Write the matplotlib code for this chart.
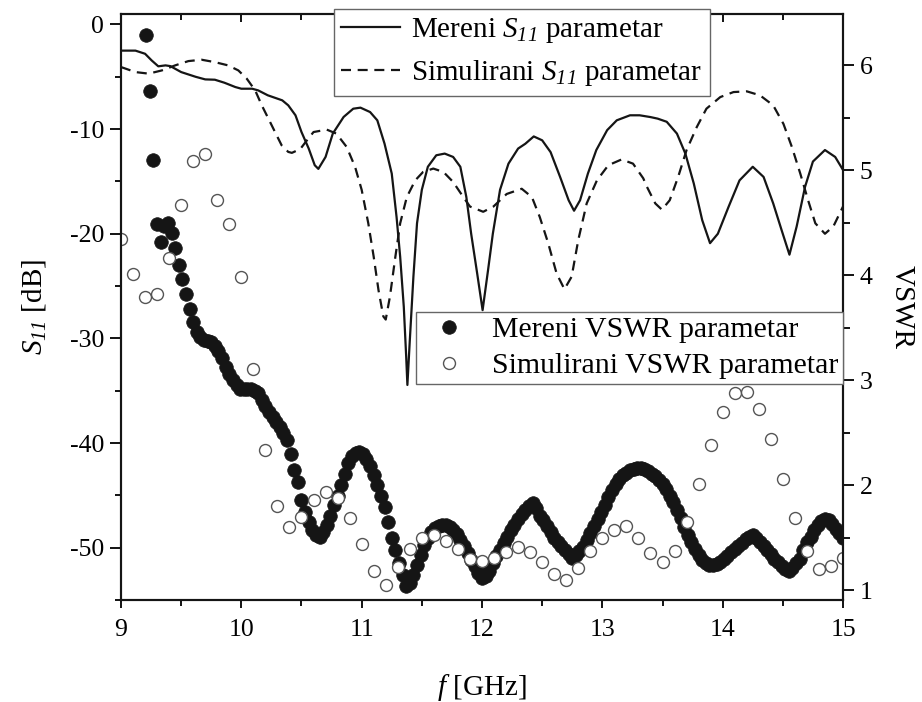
import numpy as np
import matplotlib
matplotlib.use("Agg")
import matplotlib.pyplot as plt
from matplotlib.ticker import MultipleLocator

plt.rcParams['font.family'] = ['Liberation Serif', 'DejaVu Serif']
plt.rcParams['mathtext.fontset'] = 'custom'
plt.rcParams['mathtext.it'] = 'Liberation Serif:italic'
plt.rcParams['mathtext.rm'] = 'Liberation Serif:italic'
plt.rcParams['mathtext.default'] = 'it'
plt.rcParams['axes.unicode_minus'] = False

# ---- measured S11 (solid) ----
s11_meas_f = [9.00, 9.12, 9.20, 9.255, 9.31, 9.37, 9.41, 9.50, 9.62, 9.70, 9.78, 9.86, 9.95, 10.00,
              10.09, 10.14, 10.22, 10.34, 10.39, 10.45, 10.50, 10.56, 10.61, 10.64, 10.70, 10.76,
              10.85, 10.93, 10.99, 11.07, 11.13, 11.19, 11.25, 11.29, 11.32, 11.35, 11.37, 11.38,
              11.40, 11.43, 11.46, 11.50, 11.55, 11.62, 11.69, 11.76, 11.82, 11.87, 11.91, 11.96,
              12.005, 12.05, 12.09, 12.15, 12.22, 12.30, 12.36, 12.43, 12.50, 12.57, 12.65, 12.72,
              12.765, 12.815, 12.88, 12.95, 13.04, 13.12, 13.23, 13.31, 13.40, 13.46, 13.535, 13.62,
              13.69, 13.76, 13.83, 13.895, 13.96, 14.05, 14.14, 14.25, 14.34, 14.42, 14.49, 14.555,
              14.615, 14.685, 14.75, 14.85, 14.935, 15.00]
s11_meas_db = [-2.5, -2.5, -2.8, -3.44, -4.0, -3.91, -3.98, -4.55, -5.0, -5.25, -5.28, -5.57, -5.98, -6.14,
               -6.14, -6.3, -6.77, -7.25, -7.73, -8.68, -10.28, -11.86, -13.45, -13.8, -12.66, -10.43,
               -8.84, -8.05, -7.95, -8.37, -9.16, -11.39, -14.25, -18.4, -22.2, -26.97, -31.75, -34.45,
               -30.2, -24.1, -19.0, -15.8, -13.6, -12.5, -12.34, -12.66, -13.6, -16.5, -20.0, -23.8,
               -27.3, -23.5, -20.0, -15.8, -13.3, -11.86, -11.4, -10.7, -11.07, -12.2, -14.6, -16.8,
               -17.8, -16.8, -14.25, -12.0, -10.1, -9.16, -8.68, -8.68, -8.85, -9.0, -9.3, -10.43,
               -12.34, -15.2, -18.7, -20.9, -20.0, -17.4, -14.9, -13.6, -14.57, -17.1, -19.66, -22.0,
               -19.3, -15.5, -13.1, -12.0, -12.66, -13.9]

# ---- simulated S11 (dashed) ----
s11_sim_f = [9.00, 9.12, 9.23, 9.34, 9.45, 9.56, 9.67, 9.78, 9.89, 9.975, 10.045, 10.115, 10.17, 10.225,
             10.28, 10.335, 10.39, 10.42, 10.49, 10.55, 10.60, 10.71, 10.79, 10.875, 10.945, 11.00,
             11.055, 11.10, 11.14, 11.18, 11.20, 11.235, 11.28, 11.32, 11.375, 11.445, 11.51, 11.595,
             11.68, 11.76, 11.845, 11.90, 12.01, 12.095, 12.205, 12.33, 12.415, 12.48, 12.55, 12.62,
             12.685, 12.745, 12.80, 12.87, 12.955, 13.05, 13.16, 13.255, 13.34, 13.37, 13.44, 13.495,
             13.56, 13.63, 13.70, 13.785, 13.865, 13.98, 14.09, 14.20, 14.31, 14.42, 14.505, 14.575,
             14.645, 14.71, 14.77, 14.85, 14.92, 15.00]
s11_sim_db = [-4.07, -4.55, -4.7, -4.39, -3.91, -3.5, -3.37, -3.6, -3.91, -4.39, -5.18, -6.3, -7.73, -9.0,
              -10.28, -11.55, -12.18, -12.27, -11.9, -11.0, -10.28, -10.05, -10.43, -11.7, -13.6, -15.8,
              -19.0, -22.2, -25.4, -27.9, -28.2, -26.0, -22.2, -19.0, -16.5, -14.9, -14.1, -13.77,
              -14.1, -15.05, -16.5, -17.4, -17.9, -17.4, -16.2, -15.7, -16.5, -18.4, -20.9, -23.8,
              -25.3, -24.1, -20.6, -17.1, -14.9, -13.45, -12.9, -13.3, -14.7, -15.5, -17.1, -17.7,
              -16.8, -14.57, -12.0, -9.8, -8.05, -6.94, -6.46, -6.39, -6.77, -7.73, -9.5, -11.7,
              -14.25, -16.8, -19.0, -20.0, -19.3, -17.4]

# ---- measured VSWR (filled dots), sweep 9.21 .. 15.00 GHz ----
vswr_meas_f = np.linspace(9.21, 15.00, 194)
vswr_meas = [6.29, 5.76, 5.10, 4.49, 4.32, 4.47, 4.50, 4.40, 4.26, 4.10,
             3.96, 3.82, 3.68, 3.55, 3.46, 3.41, 3.38, 3.37, 3.36, 3.33,
             3.28, 3.21, 3.13, 3.06, 3.00, 2.95, 2.92, 2.92, 2.92, 2.92,
             2.90, 2.88, 2.81, 2.75, 2.70, 2.65, 2.60, 2.55, 2.50, 2.43,
             2.30, 2.14, 2.03, 1.86, 1.74, 1.65, 1.57, 1.52, 1.51, 1.55,
             1.62, 1.71, 1.81, 1.90, 2.00, 2.11, 2.21, 2.28, 2.31, 2.32,
             2.30, 2.25, 2.18, 2.10, 2.00, 1.90, 1.79, 1.65, 1.50, 1.38,
             1.26, 1.14, 1.04, 1.07, 1.14, 1.24, 1.33, 1.43, 1.50, 1.55,
             1.59, 1.61, 1.62, 1.62, 1.60, 1.57, 1.53, 1.48,
             1.42, 1.35, 1.29, 1.23, 1.16, 1.11, 1.13, 1.18, 1.26, 1.32,
             1.38, 1.45, 1.51, 1.57, 1.62, 1.68, 1.72, 1.76, 1.80, 1.83,
             1.78, 1.71, 1.67, 1.61, 1.55, 1.50, 1.46, 1.42, 1.38, 1.34,
             1.31, 1.33, 1.37, 1.41, 1.48, 1.54, 1.61, 1.68, 1.74, 1.81,
             1.89, 1.95, 2.01, 2.06, 2.10, 2.12, 2.14, 2.15, 2.16, 2.16,
             2.15, 2.13, 2.11, 2.09, 2.05, 2.01, 1.96, 1.90, 1.84, 1.76,
             1.69, 1.60, 1.52, 1.46, 1.39, 1.33, 1.29, 1.26, 1.24, 1.24,
             1.25, 1.27, 1.30, 1.32, 1.36, 1.39, 1.42, 1.45, 1.49, 1.51,
             1.52, 1.50, 1.46, 1.42, 1.38, 1.34, 1.30, 1.27, 1.23, 1.20,
             1.18, 1.21, 1.26, 1.30, 1.38, 1.46, 1.51, 1.57, 1.62, 1.66,
             1.68, 1.67, 1.63, 1.58, 1.54, 1.50]

# ---- simulated VSWR (open circles), 9.0 .. 15.0 GHz step 0.1 ----
vswr_sim_f = np.linspace(9.0, 15.0, 61)
vswr_sim = [4.35, 4.01, 3.79, 3.82, 4.16, 4.67, 5.09, 5.16, 4.72, 4.49,
            3.98, 3.11, 2.33, 1.80, 1.60, 1.70, 1.86, 1.93, 1.88, 1.69,
            1.44, 1.18, 1.05, 1.22, 1.39, 1.50, 1.52, 1.47, 1.39, 1.30,
            1.28, 1.31, 1.36, 1.41, 1.36, 1.27, 1.15, 1.10, 1.21, 1.37,
            1.50, 1.57, 1.61, 1.50, 1.35, 1.27, 1.37, 1.65, 2.01, 2.38,
            2.70, 2.88, 2.89, 2.73, 2.44, 2.06, 1.69, 1.37, 1.20, 1.23,
            1.31]

x_ticks = [9, 10, 11, 12, 13, 14, 15]
y_ticks = [0, -10, -20, -30, -40, -50]
vswr_ticks = [1, 2, 3, 4, 5, 6]

fig = plt.figure(figsize=(9.22, 7.02), dpi=100)
ax = fig.add_axes([121/922, 1-600/702, (843-121)/922, (600-14)/702])
ax2 = ax.twinx()

lc = '#151515'
l1, = ax.plot(s11_meas_f, s11_meas_db, '-', color=lc, lw=1.6)
l2, = ax.plot(s11_sim_f, s11_sim_db, '--', color=lc, lw=1.6, dashes=(4.5, 3))

p1, = ax2.plot(vswr_meas_f, vswr_meas, 'o', color='#151515', ms=9.8, mec='#151515', mew=0.5, ls='none')
p2, = ax2.plot(vswr_sim_f, vswr_sim, 'o', mfc='white', mec='#555555', ms=8.6, mew=1.0, ls='none')

ax.set_xlim(9, 15)
ax.set_ylim(-55, 1)
ax2.set_ylim(0.905, 6.49)

ax.set_xticks(x_ticks)
ax.set_xticklabels([str(t) for t in x_ticks])
ax.xaxis.set_minor_locator(MultipleLocator(0.5))
ax.set_yticks(y_ticks)
ax.set_yticklabels([str(t) for t in y_ticks])
ax.yaxis.set_minor_locator(MultipleLocator(5))
ax2.set_yticks(vswr_ticks)
ax2.set_yticklabels([str(t) for t in vswr_ticks])
ax2.yaxis.set_minor_locator(MultipleLocator(0.5))

fs_tick = 18.5
ax.tick_params(axis='x', which='major', direction='out', length=6, width=1.3, labelsize=fs_tick,
               top=True, pad=8)
ax.tick_params(axis='x', which='minor', direction='out', length=4.5, width=1.3, top=True)
ax.tick_params(axis='y', which='major', direction='out', length=8, width=1.3, labelsize=fs_tick, pad=4)
ax.tick_params(axis='y', which='minor', direction='out', length=4.5, width=1.3)
ax2.tick_params(axis='y', which='major', direction='out', length=8, width=1.3, labelsize=fs_tick, pad=4)
ax2.tick_params(axis='y', which='minor', direction='out', length=5, width=1.3)
# top ticks point inward
for t in ax.xaxis.get_major_ticks() + ax.xaxis.get_minor_ticks():
    t.tick2line.set_marker(3)  # TICKDOWN

for a in (ax, ax2):
    for sp in a.spines.values():
        sp.set_linewidth(1.5)
        sp.set_color('#151515')

ax.set_xlabel(r'$f$ [GHz]', fontsize=21, labelpad=22)
ax.set_ylabel(r'$S_{11}$ [dB]', fontsize=21, labelpad=16)
ax2.set_ylabel('VSWR', fontsize=21, rotation=270, labelpad=30)

leg1 = ax2.legend([l1, l2],
                  [r'Mereni $S_{11}$ parametar', r'Simulirani $S_{11}$ parametar'],
                  loc='upper left', bbox_to_anchor=(334/922, 1-9/702), bbox_transform=fig.transFigure,
                  fontsize=21, frameon=True, fancybox=False, edgecolor='#666666', framealpha=1,
                  borderpad=0.25, handlelength=2.0, handletextpad=0.4, labelspacing=0.45,
                  borderaxespad=0)
leg1.get_frame().set_linewidth(1.0)
ax2.add_artist(leg1)
leg2 = ax2.legend([p1, p2], ['Mereni VSWR parametar', 'Simulirani VSWR parametar'],
                  loc='upper right', bbox_to_anchor=(843/922, 1-312/702), bbox_transform=fig.transFigure,
                  fontsize=21.5, frameon=True, fancybox=False, edgecolor='#666666', framealpha=1,
                  borderpad=0.15, handlelength=1.9, handletextpad=0.5, labelspacing=0.3,
                  borderaxespad=0)
leg2.get_frame().set_linewidth(1.0)

fig.savefig('out.png', dpi=100)
